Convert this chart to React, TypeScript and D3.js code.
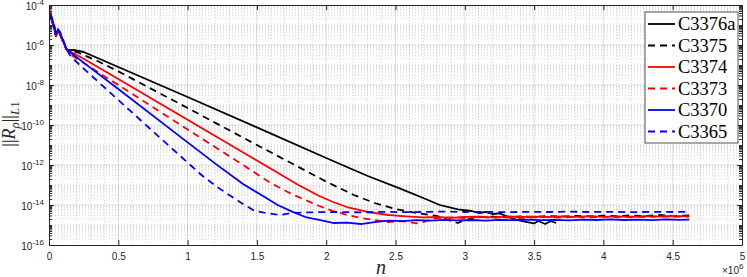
import React, { useEffect, useRef } from 'react';
import * as d3 from 'd3';

// n in units of 1e6 iterations, residual ||R_rho||_L1
const c3376a: [number, number][] = [
  [0, 2.51e-5], [0.008, 4.47e-5], [0.02, 1.78e-5], [0.035, 7.94e-6], [0.05, 2.82e-6],
  [0.065, 5.01e-6], [0.08, 3.55e-6], [0.095, 2.0e-6], [0.11, 1.12e-6], [0.125, 6.31e-7],
  [0.14, 5.62e-7], [0.18, 5.62e-7], [0.25, 4.47e-7], [0.35, 2.24e-7], [0.5, 7.94e-8],
  [0.75, 1.41e-8], [1.0, 2.51e-9], [1.5, 7.59e-11], [2.0, 2.24e-12], [2.3, 2.82e-13],
  [2.53, 6.76e-14], [2.7, 2.24e-14], [2.82, 1.0e-14], [2.95, 6.03e-15], [3.05, 5.01e-15],
  [3.1, 3.98e-15], [3.15, 4.47e-15], [3.2, 3.55e-15], [3.25, 3.8e-15], [3.3, 2.82e-15],
  [3.35, 2.0e-15], [3.4, 1.66e-15], [3.45, 1.41e-15], [3.5, 1.2e-15], [3.53, 1.58e-15],
  [3.58, 1.12e-15], [3.62, 1.58e-15], [3.66, 1.26e-15],
];

const c3375: [number, number][] = [
  [0, 2.0e-5], [0.01, 3.55e-5], [0.02, 1.58e-5], [0.035, 7.08e-6], [0.05, 2.82e-6],
  [0.065, 4.47e-6], [0.08, 3.16e-6], [0.095, 1.78e-6], [0.11, 1.0e-6], [0.125, 6.31e-7],
  [0.14, 5.37e-7], [0.2, 4.47e-7], [0.35, 1.58e-7], [0.5, 4.79e-8], [1.0, 7.08e-10],
  [1.5, 1.0e-11], [2.0, 1.48e-13], [2.2, 3.16e-14], [2.35, 1.26e-14], [2.5, 6.31e-15],
  [2.65, 3.98e-15], [2.8, 2.82e-15], [2.9, 1.58e-15], [2.95, 1.26e-15], [3.0, 1.78e-15],
  [3.1, 2.51e-15], [3.2, 2.63e-15], [3.3, 2.4e-15], [3.4, 2.69e-15], [3.5, 2.51e-15],
  [3.6, 2.82e-15], [3.7, 2.63e-15], [3.8, 2.88e-15], [3.9, 2.69e-15], [4.0, 2.95e-15],
  [4.1, 2.75e-15], [4.2, 3.02e-15], [4.3, 2.82e-15], [4.4, 3.16e-15], [4.5, 2.88e-15],
  [4.62, 3.02e-15],
];

const c3374: [number, number][] = [
  [0, 2.24e-5], [0.01, 3.98e-5], [0.02, 1.78e-5], [0.035, 8.91e-6], [0.05, 3.16e-6],
  [0.065, 5.01e-6], [0.08, 3.55e-6], [0.095, 2.0e-6], [0.11, 1.12e-6], [0.125, 6.31e-7],
  [0.16, 4.47e-7], [0.25, 2.04e-7], [0.5, 2.0e-8], [1.0, 1.82e-10], [1.5, 1.66e-12],
  [1.8, 1.0e-13], [1.95, 2.82e-14], [2.05, 1.41e-14], [2.15, 7.94e-15], [2.3, 4.47e-15],
  [2.45, 3.16e-15], [2.6, 2.63e-15], [2.7, 2.4e-15], [2.8, 2.51e-15], [2.9, 2.29e-15],
  [3.0, 2.51e-15], [3.1, 2.63e-15], [3.2, 2.4e-15], [3.3, 2.69e-15], [3.4, 2.51e-15],
  [3.5, 2.63e-15], [3.6, 2.45e-15], [3.7, 2.69e-15], [3.8, 2.57e-15], [3.9, 2.75e-15],
  [4.0, 2.57e-15], [4.1, 2.69e-15], [4.2, 2.51e-15], [4.3, 2.75e-15], [4.4, 2.63e-15],
  [4.5, 2.82e-15], [4.62, 2.69e-15],
];

const c3373: [number, number][] = [
  [0, 2.82e-5], [0.01, 4.27e-5], [0.02, 1.91e-5], [0.035, 7.94e-6], [0.05, 3.02e-6],
  [0.065, 4.79e-6], [0.08, 3.39e-6], [0.095, 1.91e-6], [0.11, 1.07e-6], [0.125, 6.03e-7],
  [0.16, 3.16e-7], [0.25, 1.26e-7], [0.5, 1.0e-8], [1.0, 6.03e-11], [1.4, 1.0e-12],
  [1.6, 1.26e-13], [1.75, 3.55e-14], [1.85, 1.78e-14], [1.95, 8.91e-15], [2.05, 5.01e-15],
  [2.15, 3.16e-15], [2.25, 2.24e-15], [2.35, 1.78e-15], [2.45, 1.41e-15], [2.55, 1.58e-15],
  [2.65, 1.2e-15], [2.7, 1.41e-15], [2.8, 2.24e-15], [2.9, 2.4e-15], [3.0, 2.24e-15],
  [3.1, 2.51e-15], [3.2, 2.29e-15], [3.3, 2.45e-15], [3.4, 2.24e-15], [3.5, 2.4e-15],
  [3.6, 2.51e-15], [3.7, 2.34e-15], [3.8, 2.51e-15], [3.9, 2.4e-15], [4.0, 2.57e-15],
  [4.1, 2.45e-15], [4.2, 2.63e-15], [4.3, 2.51e-15], [4.4, 2.69e-15], [4.5, 2.57e-15],
  [4.62, 2.63e-15],
];

const c3370: [number, number][] = [
  [0, 1.78e-5], [0.01, 3.55e-5], [0.02, 2.24e-5], [0.035, 1.0e-5], [0.05, 3.55e-6],
  [0.065, 5.62e-6], [0.08, 3.98e-6], [0.095, 2.24e-6], [0.11, 1.26e-6], [0.125, 6.31e-7],
  [0.16, 3.98e-7], [0.25, 1.32e-7], [0.5, 6.31e-9], [1.0, 1.35e-11], [1.2, 1.17e-12],
  [1.4, 1.12e-13], [1.55, 2.63e-14], [1.65, 1.0e-14], [1.75, 4.79e-15], [1.85, 2.51e-15],
  [1.95, 1.78e-15], [2.05, 1.26e-15], [2.15, 1.32e-15], [2.25, 1.12e-15], [2.35, 1.41e-15],
  [2.45, 1.66e-15], [2.55, 1.58e-15], [2.65, 1.74e-15], [2.75, 1.66e-15], [2.85, 1.82e-15],
  [2.95, 1.7e-15], [3.05, 1.78e-15], [3.15, 1.66e-15], [3.25, 1.82e-15], [3.35, 1.74e-15],
  [3.45, 1.86e-15], [3.55, 1.74e-15], [3.65, 1.82e-15], [3.75, 1.7e-15], [3.85, 1.86e-15],
  [3.95, 1.78e-15], [4.05, 1.91e-15], [4.15, 1.78e-15], [4.25, 1.86e-15], [4.35, 1.74e-15],
  [4.45, 1.91e-15], [4.55, 1.82e-15], [4.62, 1.86e-15],
];

const c3365: [number, number][] = [
  [0, 4.47e-6], [0.01, 2.24e-5], [0.02, 2.51e-5], [0.035, 1.12e-5], [0.05, 3.98e-6],
  [0.065, 6.31e-6], [0.08, 4.47e-6], [0.095, 2.51e-6], [0.11, 1.26e-6], [0.125, 6.31e-7],
  [0.16, 2.51e-7], [0.25, 6.61e-8], [0.5, 1.78e-9], [0.8, 2.34e-11], [1.0, 1.32e-12],
  [1.1, 3.16e-13], [1.2, 9.33e-14], [1.3, 3.16e-14], [1.4, 1.12e-14], [1.48, 5.25e-15],
  [1.55, 4.17e-15], [1.67, 3.16e-15], [1.75, 3.98e-15], [1.85, 4.27e-15], [1.95, 4.37e-15],
  [2.1, 4.47e-15], [2.25, 4.27e-15], [2.4, 4.57e-15], [2.55, 4.37e-15], [2.7, 4.47e-15],
  [2.85, 4.68e-15], [3.0, 4.47e-15], [3.15, 4.57e-15], [3.3, 4.37e-15], [3.45, 4.57e-15],
  [3.6, 4.47e-15], [3.75, 4.68e-15], [3.9, 4.47e-15], [4.05, 4.57e-15], [4.2, 4.37e-15],
  [4.35, 4.57e-15], [4.5, 4.47e-15], [4.62, 4.57e-15],
];

const seriesNames = ['C3376a', 'C3375', 'C3374', 'C3373', 'C3370', 'C3365'];
const seriesData = [c3376a, c3375, c3374, c3373, c3370, c3365];
const seriesColors = ['#000000', '#000000', '#ff0000', '#ff0000', '#0000ff', '#0000ff'];
const seriesDashed = [false, true, false, true, false, true];

const xTicks = [0, 0.5, 1, 1.5, 2, 2.5, 3, 3.5, 4, 4.5, 5];
const xTickLabels = ['0', '0.5', '1', '1.5', '2', '2.5', '3', '3.5', '4', '4.5', '5'];
const yTickExponents = [-16, -14, -12, -10, -8, -6, -4];

const App = () => {
  const ref = useRef<SVGSVGElement>(null);

  useEffect(() => {
    const svg = d3.select(ref.current);
    svg.selectAll('*').remove();

    const left = 49, right = 742, top = 5, bottom = 245;
    const axisColor = '#262626';
    const tickFont = '"Liberation Sans", Arial, sans-serif';
    const serif = '"Liberation Serif", "Times New Roman", serif';

    const x = d3.scaleLinear().domain([0, 5]).range([left, right]);
    const y = d3.scaleLog().domain([1e-16, 1e-4]).range([bottom, top]);

    const yMajor = yTickExponents.map(e => Math.pow(10, e));
    const yMinor: number[] = [];
    d3.range(-16, -4).forEach(e => {
      d3.range(1, 10).forEach(k => {
        if (k === 1 && e % 2 === 0) return;
        yMinor.push(k * Math.pow(10, e));
      });
    });
    const xMinor = d3.range(1, 50).map(i => i / 10).filter(v => Math.abs(v * 2 - Math.round(v * 2)) > 1e-6);

    // grid
    const grid = svg.append('g');
    grid.selectAll('.xminor').data(xMinor).enter().append('line')
      .attr('x1', d => x(d)).attr('x2', d => x(d))
      .attr('y1', top).attr('y2', bottom)
      .attr('stroke', axisColor).attr('stroke-opacity', 0.22)
      .attr('stroke-width', 0.8).attr('stroke-dasharray', '1,2');
    grid.selectAll('.yminor').data(yMinor).enter().append('line')
      .attr('x1', left).attr('x2', right)
      .attr('y1', d => y(d)).attr('y2', d => y(d))
      .attr('stroke', axisColor).attr('stroke-opacity', 0.22)
      .attr('stroke-width', 0.8).attr('stroke-dasharray', '1,2');
    grid.selectAll('.xmajor').data(xTicks.slice(1, -1)).enter().append('line')
      .attr('x1', d => x(d)).attr('x2', d => x(d))
      .attr('y1', top).attr('y2', bottom)
      .attr('stroke', axisColor).attr('stroke-opacity', 0.15);
    grid.selectAll('.ymajor').data(yMajor.slice(1, -1)).enter().append('line')
      .attr('x1', left).attr('x2', right)
      .attr('y1', d => y(d)).attr('y2', d => y(d))
      .attr('stroke', axisColor).attr('stroke-opacity', 0.15);

    // series
    svg.append('clipPath').attr('id', 'plot-clip')
      .append('rect').attr('x', left).attr('y', top)
      .attr('width', right - left).attr('height', bottom - top);

    const line = d3.line<[number, number]>()
      .x(d => x(d[0]))
      .y(d => y(d[1]));

    svg.append('g').attr('clip-path', 'url(#plot-clip)')
      .selectAll('path')
      .data(seriesData)
      .enter().append('path')
      .attr('d', d => line(d))
      .attr('fill', 'none')
      .attr('stroke', (d, i) => seriesColors[i])
      .attr('stroke-width', 1.8)
      .attr('stroke-linejoin', 'round')
      .attr('stroke-dasharray', (d, i) => (seriesDashed[i] ? '7,5' : null));

    // axes
    const styleAxis = (g: any) => {
      g.select('.domain').attr('stroke', axisColor);
      g.selectAll('.tick line').attr('stroke', axisColor);
      g.attr('font-family', tickFont).attr('font-size', 10);
      g.selectAll('.tick text').attr('fill', axisColor);
    };

    svg.append('g')
      .attr('transform', `translate(0,${bottom})`)
      .call(d3.axisBottom(x).tickValues(xTicks).tickSizeInner(-5).tickSizeOuter(0).tickPadding(8)
        .tickFormat((d, i) => xTickLabels[i]))
      .call(styleAxis);
    svg.append('g')
      .attr('transform', `translate(0,${top})`)
      .call(d3.axisTop(x).tickValues(xTicks).tickSizeInner(-5).tickSizeOuter(0).tickFormat(() => ''))
      .call(styleAxis);

    const yLeft = svg.append('g')
      .attr('transform', `translate(${left},0)`)
      .call(d3.axisLeft(y).tickValues(yMajor).tickSizeInner(-5).tickSizeOuter(0).tickPadding(5)
        .tickFormat(() => ''))
      .call(styleAxis);
    yLeft.selectAll('.tick text').each(function (d: any, i: number) {
      const t = d3.select(this);
      t.attr('dy', null).attr('y', 4);
      t.append('tspan').text('10');
      t.append('tspan').attr('dy', -5).attr('font-size', 8).text(String(yTickExponents[i]));
    });
    svg.append('g')
      .attr('transform', `translate(${left},0)`)
      .call(d3.axisLeft(y).tickValues(yMinor).tickSize(-3).tickFormat(() => ''))
      .call(styleAxis)
      .select('.domain').remove();

    svg.append('g')
      .attr('transform', `translate(${right},0)`)
      .call(d3.axisRight(y).tickValues(yMajor).tickSizeInner(-5).tickSizeOuter(0).tickFormat(() => ''))
      .call(styleAxis);
    svg.append('g')
      .attr('transform', `translate(${right},0)`)
      .call(d3.axisRight(y).tickValues(yMinor).tickSize(-3).tickFormat(() => ''))
      .call(styleAxis)
      .select('.domain').remove();

    // x exponent
    const exp = svg.append('text')
      .attr('x', 722).attr('y', 274)
      .attr('font-family', tickFont).attr('font-size', 10).attr('fill', axisColor);
    exp.append('tspan').text('\u00d710');
    exp.append('tspan').attr('dy', -5).attr('font-size', 8).text('6');

    // axis labels
    svg.append('text')
      .attr('x', 381).attr('y', 274)
      .attr('text-anchor', 'middle')
      .attr('font-family', serif).attr('font-style', 'italic').attr('font-size', 20)
      .attr('fill', axisColor)
      .text('n');

    const yl = svg.append('text')
      .attr('transform', 'translate(15,124) rotate(-90)')
      .attr('text-anchor', 'middle')
      .attr('font-family', serif).attr('font-size', 18)
      .attr('fill', axisColor);
    yl.append('tspan').text('||');
    yl.append('tspan').attr('font-style', 'italic').text('R');
    yl.append('tspan').attr('font-style', 'italic').attr('font-size', 13).attr('dy', 4).text('\u03c1');
    yl.append('tspan').attr('dy', -4).text('||');
    yl.append('tspan').attr('font-style', 'italic').attr('font-size', 13).attr('dy', 4).text('L');
    yl.append('tspan').attr('font-size', 13).text('1');

    // legend
    const legend = svg.append('g').attr('transform', 'translate(645,12)');
    legend.append('rect')
      .attr('x', 0).attr('y', 0).attr('width', 93).attr('height', 131)
      .attr('fill', '#ffffff').attr('stroke', axisColor).attr('stroke-width', 0.8);
    legend.selectAll('line')
      .data(seriesNames)
      .enter().append('line')
      .attr('x1', 3).attr('x2', 30)
      .attr('y1', (d, i) => 12 + i * 21.5).attr('y2', (d, i) => 12 + i * 21.5)
      .attr('stroke', (d, i) => seriesColors[i])
      .attr('stroke-width', 1.8)
      .attr('stroke-dasharray', (d, i) => (seriesDashed[i] ? '7,5' : null));
    legend.selectAll('text')
      .data(seriesNames)
      .enter().append('text')
      .attr('x', 33)
      .attr('y', (d, i) => 12 + i * 21.5 + 6)
      .attr('font-family', serif).attr('font-size', 18.5)
      .attr('fill', '#000000')
      .text(d => d);
  }, []);

  return (
    <svg ref={ref} width="747" height="277" style={{ position: 'absolute', left: 0, top: 0, background: '#fff' }}></svg>
  );
};

export default App;
